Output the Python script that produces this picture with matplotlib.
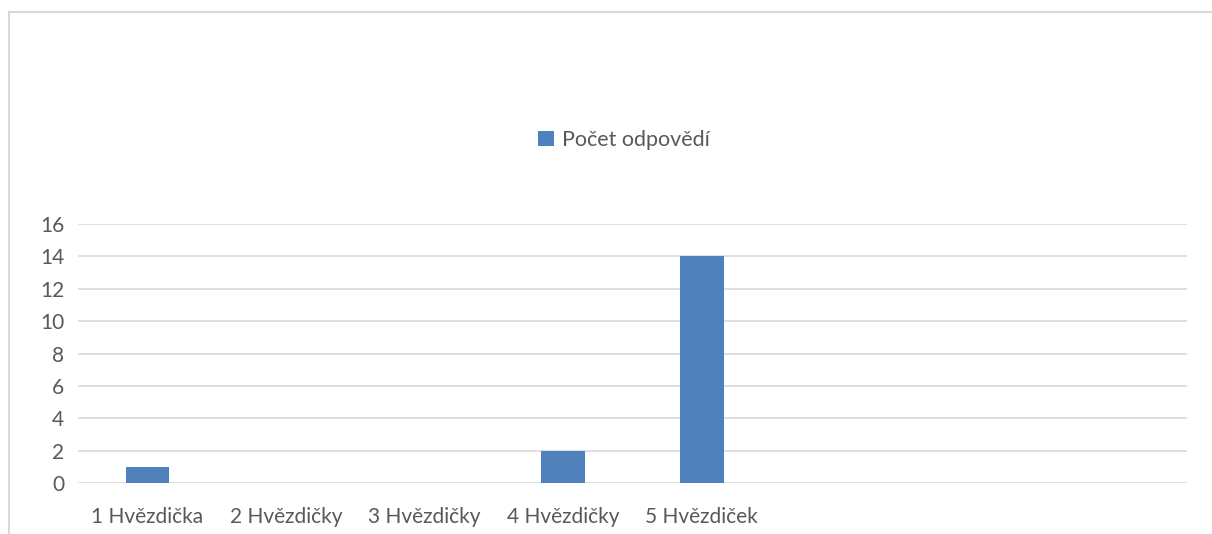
import matplotlib

matplotlib.use("Agg")
import matplotlib.pyplot as plt
from matplotlib.patches import Rectangle
import numpy as np

# chart data
categories = ["1 Hvězdička", "2 Hvězdičky", "3 Hvězdičky", "4 Hvězdičky", "5 Hvězdiček", "", "", ""]
counts = [1, 0, 0, 2, 14, 0, 0, 0]
series_name = "Počet odpovědí"
y_ticks = [0, 2, 4, 6, 8, 10, 12, 14, 16]

plt.rcParams["font.family"] = ["Lato", "DejaVu Sans"]
text_col = "#595959"
grid_col = "#d9d9d9"
bar_col = "#4f81bd"

fig = plt.figure(figsize=(12.12, 5.34), dpi=100)
fig.patch.set_facecolor("white")

# light chart-area frame (runs off the right and bottom edges)
W, H = 1212, 534
fig.patches.append(Rectangle((8.5 / W, -0.1), 1.2, 1 - 12.5 / H + 0.1,
                             transform=fig.transFigure, fill=False,
                             edgecolor=grid_col, linewidth=1.5))

ax = fig.add_axes([78 / W, 1 - 483 / H, (1187 - 78) / W, (483 - 224) / H])
x = np.arange(len(categories))
ax.bar(x, counts, width=0.313, color=bar_col, label=series_name, zorder=3)

ax.set_xlim(-0.5, len(categories) - 0.5)
ax.set_ylim(0, 16)
ax.set_yticks(y_ticks)
ax.set_xticks(x)
ax.set_xticklabels(categories)
ax.tick_params(axis="both", length=0, labelsize=15, colors=text_col)
ax.tick_params(axis="y", pad=10)
ax.tick_params(axis="x", pad=17)
ax.grid(axis="y", color=grid_col, linewidth=1.2, zorder=0)
for s in ax.spines.values():
    s.set_visible(False)

leg = fig.legend(loc="center", bbox_to_anchor=(624 / W, 1 - 140 / H), frameon=False,
                 fontsize=15.5, handlelength=0.75, handleheight=0.75, handletextpad=0.35)
for t in leg.get_texts():
    t.set_color(text_col)

fig.savefig("out.png", dpi=100)
